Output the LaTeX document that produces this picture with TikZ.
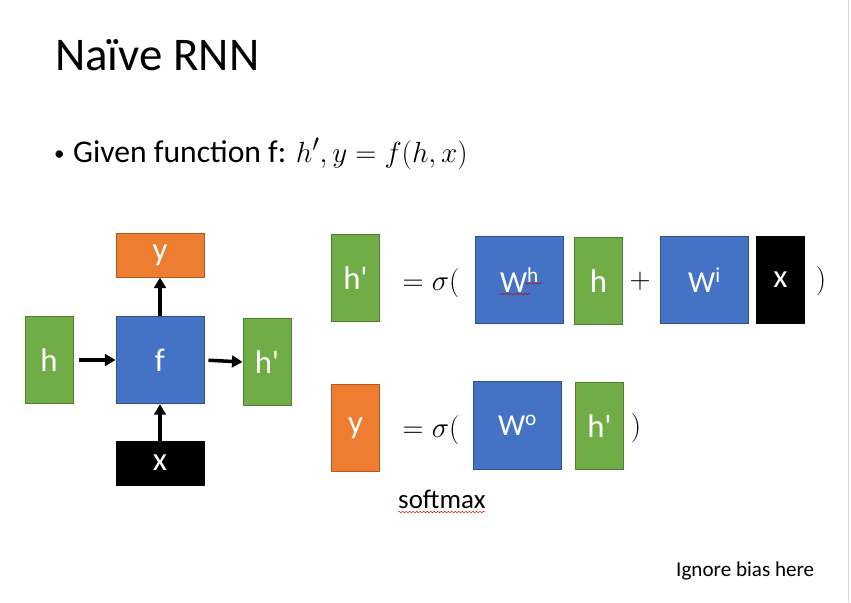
\documentclass[tikz,border=0pt]{standalone}
\usepackage{fontspec}
\setmainfont{Carlito}
\usepackage{amsmath}
\usepackage{tikz}
\usetikzlibrary{arrows.meta, positioning, decorations.pathmorphing}

\definecolor{vgreen}{HTML}{70AD47}
\definecolor{vgreenline}{HTML}{507E32}
\definecolor{vblue}{HTML}{4472C4}
\definecolor{vblueline}{HTML}{2F528F}
\definecolor{vorange}{HTML}{ED7D31}
\definecolor{vorangeline}{HTML}{AE5A21}

\begin{document}
\begin{tikzpicture}[
    x=0.03cm, y=-0.03cm,
    box/.style={rectangle, line width=0.8pt, inner sep=0pt, text=white, font=\fontsize{28}{30}\selectfont},
    gbox/.style={box, fill=vgreen, draw=vgreenline, minimum width=1.44cm, minimum height=2.62cm},
    bbox/.style={box, fill=vblue, draw=vblueline, minimum width=2.64cm, minimum height=2.62cm, font=\fontsize{26}{28}\selectfont},
    obox/.style={box, fill=vorange, draw=vorangeline},
    kbox/.style={box, fill=black, draw=black},
    eqtext/.style={inner sep=0pt, font=\fontsize{31}{34}\selectfont},
    arr/.style={-{Triangle[length=9pt, width=10pt]}, line width=3pt},
    squiggle/.style={red!80!black, line width=0.4pt, decorate, decoration={snake, amplitude=0.6pt, segment length=3pt}}
]
\useasboundingbox (0,0) rectangle (851,602);
\draw[black!15, line width=0.6pt] (848,0) -- (848,602);

% Title and bullet line
\node[anchor=base west, inner sep=0pt, font=\fontsize{40}{46}\selectfont] (title) at (55,70) {Naïve RNN};
\node[anchor=base west, inner sep=0pt, font=\fontsize{18}{20}\selectfont] (bullet) at (54,160) {•};
\node[anchor=base west, inner sep=0pt, font=\fontsize{27}{30}\selectfont] (given) at (73,162) {Given function f: {\fontsize{30}{32}\selectfont$h', y = f(h, x)$}};

% Left: the function block f
\node[bbox, font=\fontsize{28}{30}\selectfont] (f) at (160,360) {f};
\node[gbox] (hin) at (49,360) {h};
\node[gbox] (hout) at (267,362) {h\textquotesingle};
\node[obox, minimum width=2.64cm, minimum height=1.32cm] (yout) at (160,255) {y};
\node[kbox, minimum width=2.64cm, minimum height=1.32cm] (xin) at (160,463) {x};

\draw[arr, shorten <=0.18cm] (hin.east) -- (f.west);
\draw[arr, shorten <=0.12cm] (f.east) -- (hout.west);
\draw[arr] (f.north) -- (yout.south);
\draw[arr] (xin.north) -- (f.south);

% Right, first line: h' = sigma(W^h h + W^i x)
\node[gbox] (hp1) at (355.5,278) {h\textquotesingle};
\node[eqtext] (eq1) at (431,283) {$=\sigma($};
\node[bbox] (wh) at (519.5,280) {W\textsuperscript{h}};
\node[gbox] (h1) at (598.5,281) {h};
\node[eqtext] (plus) at (640,281) {$+$};
\node[bbox] (wi) at (704.5,280) {W\textsuperscript{i}};
\node[kbox, minimum width=1.44cm, minimum height=2.62cm] (x1) at (780.5,280) {x};
\node[eqtext] (close1) at (821,281) {$)$};

% Right, second line: y = sigma(W^o h')
\node[obox, minimum width=1.44cm, minimum height=2.62cm] (y2) at (355.5,428) {y};
\node[eqtext] (eq2) at (431,430) {$=\sigma($};
\node[bbox] (wo) at (517.5,425.5) {W\textsuperscript{o}};
\node[gbox] (hp2) at (599.5,426) {h\textquotesingle};
\node[eqtext] (close2) at (636,428) {$)$};
\node[anchor=base west, inner sep=0pt, font=\fontsize{23}{26}\selectfont] (softmax) at (398,508) {softmax};

% spell-check marks
\draw[squiggle] ([xshift=-0.6cm, yshift=-0.42cm]wh.center) -- ([xshift=0.35cm, yshift=-0.42cm]wh.center);
\draw[squiggle] ([xshift=0.15cm, yshift=-0.1cm]wh.center) -- ([xshift=0.68cm, yshift=-0.1cm]wh.center);
\draw[squiggle] ([yshift=-0.12cm]softmax.base west) -- ([yshift=-0.12cm]softmax.base east);

\node[anchor=base west, inner sep=0pt, font=\fontsize{18}{22}\selectfont] (note) at (676,576) {Ignore bias here};
\end{tikzpicture}
\end{document}
